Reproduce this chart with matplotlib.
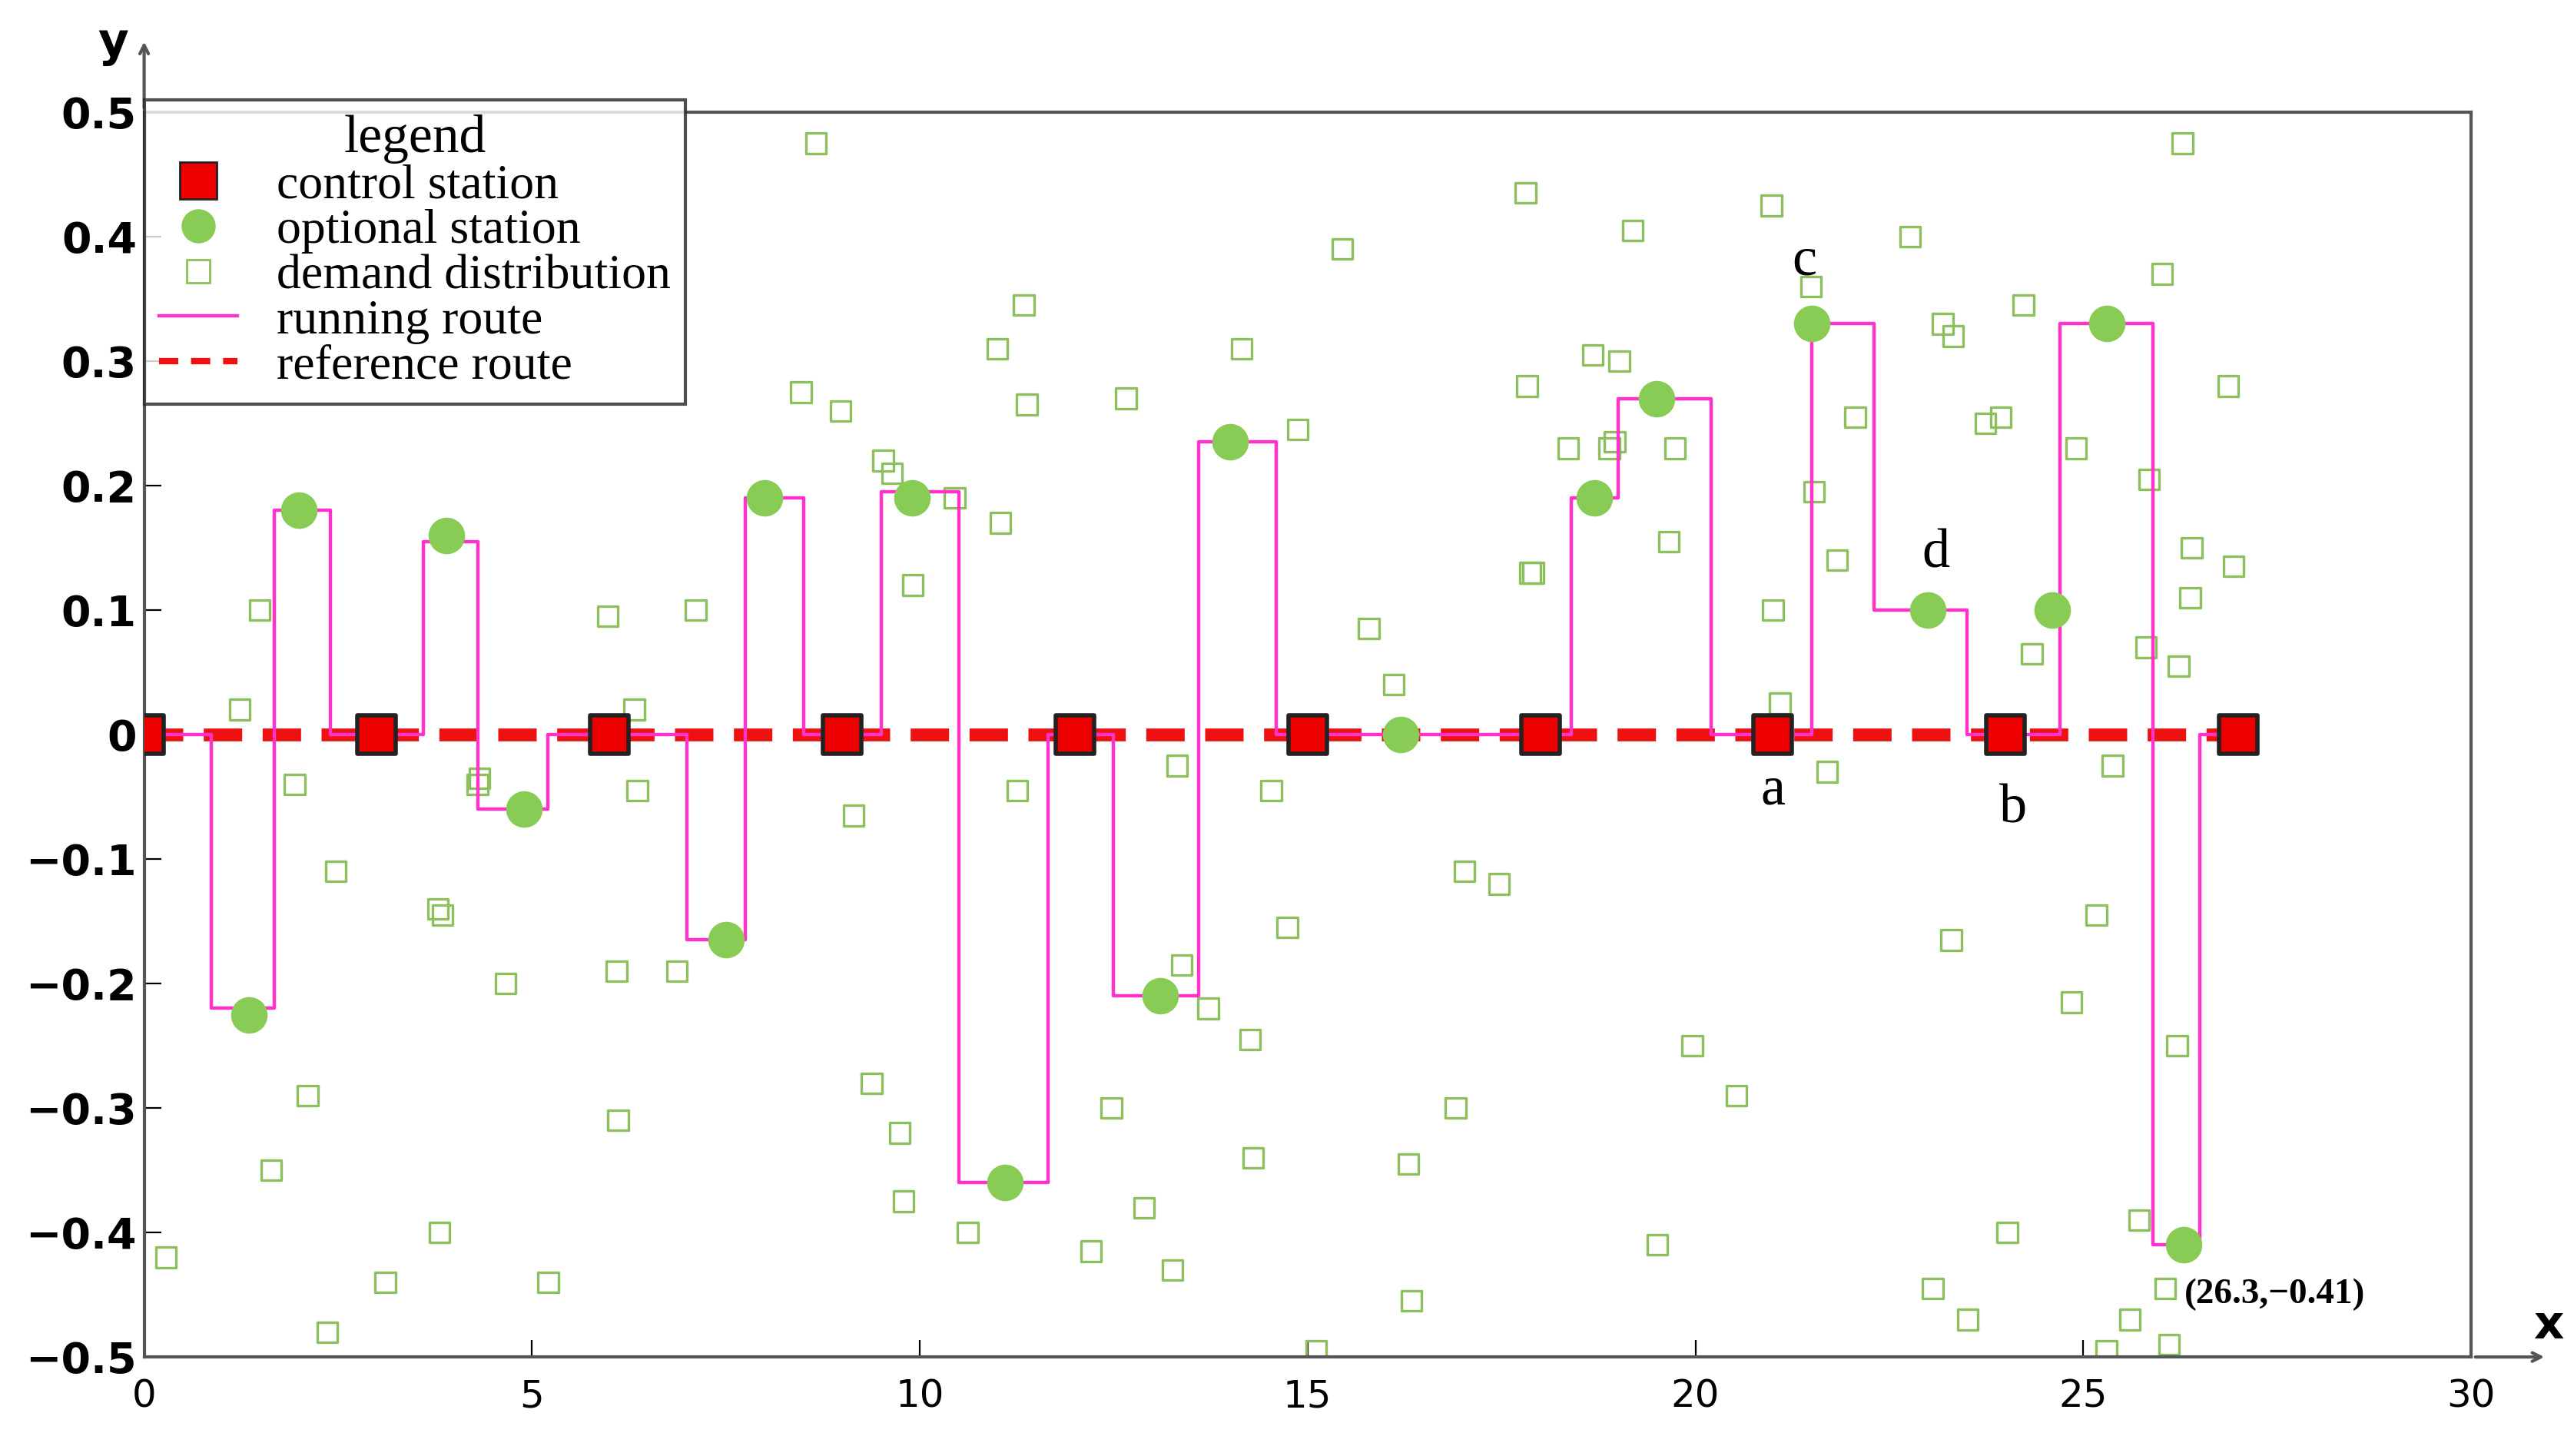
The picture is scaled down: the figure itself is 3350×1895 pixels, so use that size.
import matplotlib
matplotlib.use("Agg")
import matplotlib.pyplot as plt
from matplotlib.lines import Line2D

control_x = [0, 3, 6, 9, 12, 15, 18, 21, 24, 27]
control_y = [0]*10
opt_x = [1.35, 2.0, 3.9, 4.9, 7.5, 8.0, 9.9, 11.1, 13.1, 14.0, 16.2, 18.7, 19.5, 21.5, 23.0, 24.6, 25.3, 26.3]
opt_y = [-0.225, 0.18, 0.16, -0.06, -0.165, 0.19, 0.19, -0.36, -0.21, 0.235, 0.0, 0.19, 0.27, 0.33, 0.10, 0.10, 0.33, -0.41]
route_x = [0, 0.87, 0.87, 1.68, 1.68, 2.4, 2.4, 3, 3.6, 3.6, 4.3, 4.3, 5.2, 5.2, 6,
           7.0, 7.0, 7.75, 7.75, 8.5, 8.5, 9, 9.5, 9.5, 10.5, 10.5, 11.65, 11.65, 12,
           12.5, 12.5, 13.6, 13.6, 14.6, 14.6, 15, 18, 18.4, 18.4, 19.0, 19.0, 20.2, 20.2, 21,
           21.5, 21.5, 22.3, 22.3, 23.5, 23.5, 24, 24.7, 24.7, 24.7, 25.9, 25.9, 26.5, 26.5, 27]
route_y = [0, 0, -0.22, -0.22, 0.18, 0.18, 0, 0, 0, 0.155, 0.155, -0.06, -0.06, 0, 0,
           0, -0.165, -0.165, 0.19, 0.19, 0, 0, 0, 0.195, 0.195, -0.36, -0.36, 0, 0,
           0, -0.21, -0.21, 0.235, 0.235, 0, 0, 0, 0, 0.19, 0.19, 0.27, 0.27, 0, 0,
           0, 0.33, 0.33, 0.10, 0.10, 0, 0, 0, 0.10, 0.33, 0.33, -0.41, -0.41, 0, 0]
demand_x = [0.28,1.23,1.49,1.94,1.64,2.11,2.36,2.47,3.11,3.79,3.85,3.81,4.30,4.32,4.66,5.21,5.98,6.09,6.11,6.32,6.36,7.11,6.87,
            8.66,8.47,8.98,9.15,9.38,9.53,9.64,9.74,9.79,9.91,10.45,10.62,11.0,11.04,11.34,11.38,11.26,12.47,12.21,12.66,12.89,
            13.26,13.38,13.32,13.72,14.15,14.26,14.30,14.87,14.74,14.53,15.45,15.11,15.79,16.11,16.34,16.30,16.91,17.02,17.47,
            17.81,17.83,17.87,17.91,18.36,18.68,19.02,18.89,18.96,19.19,19.51,19.66,19.74,19.96,20.53,20.98,21.0,21.09,21.49,
            21.53,21.70,21.83,22.06,22.77,23.06,23.19,23.32,23.30,23.51,23.74,23.94,24.02,24.23,24.34,24.85,24.91,25.17,25.38,
            25.30,25.60,25.72,25.81,25.85,26.02,26.28,26.40,26.38,26.21,26.23,26.06,26.11,26.94,26.87]
demand_y = [-0.42,0.02,0.10,-0.04,-0.35,-0.29,-0.48,-0.11,-0.44,-0.14,-0.145,-0.40,-0.04,-0.035,-0.20,-0.44,0.095,-0.19,-0.31,0.02,-0.045,0.10,-0.19,
            0.475,0.275,0.26,-0.065,-0.28,0.22,0.21,-0.32,-0.375,0.12,0.19,-0.40,0.31,0.17,0.345,0.265,-0.045,-0.30,-0.415,0.27,-0.38,
            -0.43,-0.185,-0.025,-0.22,0.31,-0.245,-0.34,0.245,-0.155,-0.045,0.39,-0.495,0.085,0.04,-0.455,-0.345,-0.30,-0.11,-0.12,
            0.435,0.28,0.13,0.13,0.23,0.305,0.30,0.23,0.235,0.405,-0.41,0.155,0.23,-0.25,-0.29,0.425,0.10,0.025,0.36,
            0.195,-0.03,0.14,0.255,0.40,-0.445,0.33,0.32,-0.165,-0.47,0.25,0.255,-0.40,0.345,0.065,-0.215,0.23,-0.145,-0.025,
            -0.495,-0.47,-0.39,0.07,0.205,0.37,0.475,0.15,0.11,-0.25,0.055,-0.445,-0.49,0.135,0.28]
xticks = [0, 5, 10, 15, 20, 25, 30]
yticks = [0.5, 0.4, 0.3, 0.2, 0.1, 0, -0.1, -0.2, -0.3, -0.4, -0.5]
ytick_labels = ["0.5", "0.4", "0.3", "0.2", "0.1", "0", "\u22120.1", "\u22120.2", "\u22120.3", "\u22120.4", "\u22120.5"]

fig = plt.figure(figsize=(16.75, 9.475), dpi=200)
ax = fig.add_axes([0.056, 0.068, 0.904, 0.855])
ax.set_xlim(0, 30)
ax.set_ylim(-0.5, 0.5)

green = "#8dbf5e"
ax.scatter(demand_x, demand_y, marker="s", s=90, facecolors="none", edgecolors=green, linewidths=1.2, zorder=2)
ax.plot(control_x, control_y, color="#ee1111", lw=6, dashes=(3, 1.6), zorder=3)
ax.plot(route_x, route_y, color="#ff33cc", lw=1.6, zorder=4)
ax.scatter(opt_x, opt_y, marker="o", s=260, color="#88cc55", zorder=5)
ax.scatter(control_x, control_y, marker="s", s=330, color="#ee0000", edgecolors="#222222", linewidths=2, zorder=6)

serif = "Liberation Serif"
for t, x, y in [("a", 21, -0.045), ("b", 24.1, -0.06), ("c", 21.4, 0.38), ("d", 23.1, 0.145)]:
    ax.text(x, y, t, fontsize=26, family=serif, ha="center", va="center")
ax.text(26.3, -0.45, "(26.3,\u22120.41)", fontsize=17, family=serif, fontweight="bold", ha="left", va="center")

ax.set_xticks(xticks)
ax.set_yticks(yticks)
ax.set_yticklabels(ytick_labels, fontsize=20, fontweight="bold")
ax.tick_params(axis="x", labelsize=18, direction="in", length=8, pad=10)
ax.tick_params(axis="y", direction="in", length=8)
for s in ax.spines.values():
    s.set_color("#555555")
    s.set_linewidth(1.5)
ax.annotate("", xy=(31.0, -0.5), xytext=(30, -0.5), xycoords="data",
            arrowprops=dict(arrowstyle="->", color="#555555", lw=1.5), annotation_clip=False)
ax.annotate("", xy=(0, 0.56), xytext=(0, 0.5), xycoords="data",
            arrowprops=dict(arrowstyle="->", color="#555555", lw=1.5), annotation_clip=False)
ax.text(31.0, -0.475, "x", fontsize=22, fontweight="bold", ha="center", va="center", clip_on=False)
ax.text(-0.4, 0.555, "y", fontsize=22, fontweight="bold", ha="center", va="center", clip_on=False)

handles = [
    Line2D([], [], marker="s", ls="none", markersize=17, color="#ee0000", markeredgecolor="#222222"),
    Line2D([], [], marker="o", ls="none", markersize=15, color="#88cc55"),
    Line2D([], [], marker="s", ls="none", markersize=11, markerfacecolor="none", markeredgecolor=green),
    Line2D([], [], color="#ff33cc", lw=1.6),
    Line2D([], [], color="#ee1111", lw=3, dashes=(3, 2)),
]
labels = ["control station", "optional station", "demand distribution", "running route", "reference route"]
leg = ax.legend(handles, labels, loc="upper left", title="legend", prop={"family": serif, "size": 23},
                title_fontproperties={"family": serif, "size": 25}, frameon=True, fancybox=False,
                edgecolor="#222222", borderaxespad=0.0, labelspacing=0.0, handlelength=1.6,
                borderpad=0.3, bbox_to_anchor=(0.0, 1.01))
leg.get_frame().set_linewidth(1.5)
fig.savefig("out.png", dpi=200)
